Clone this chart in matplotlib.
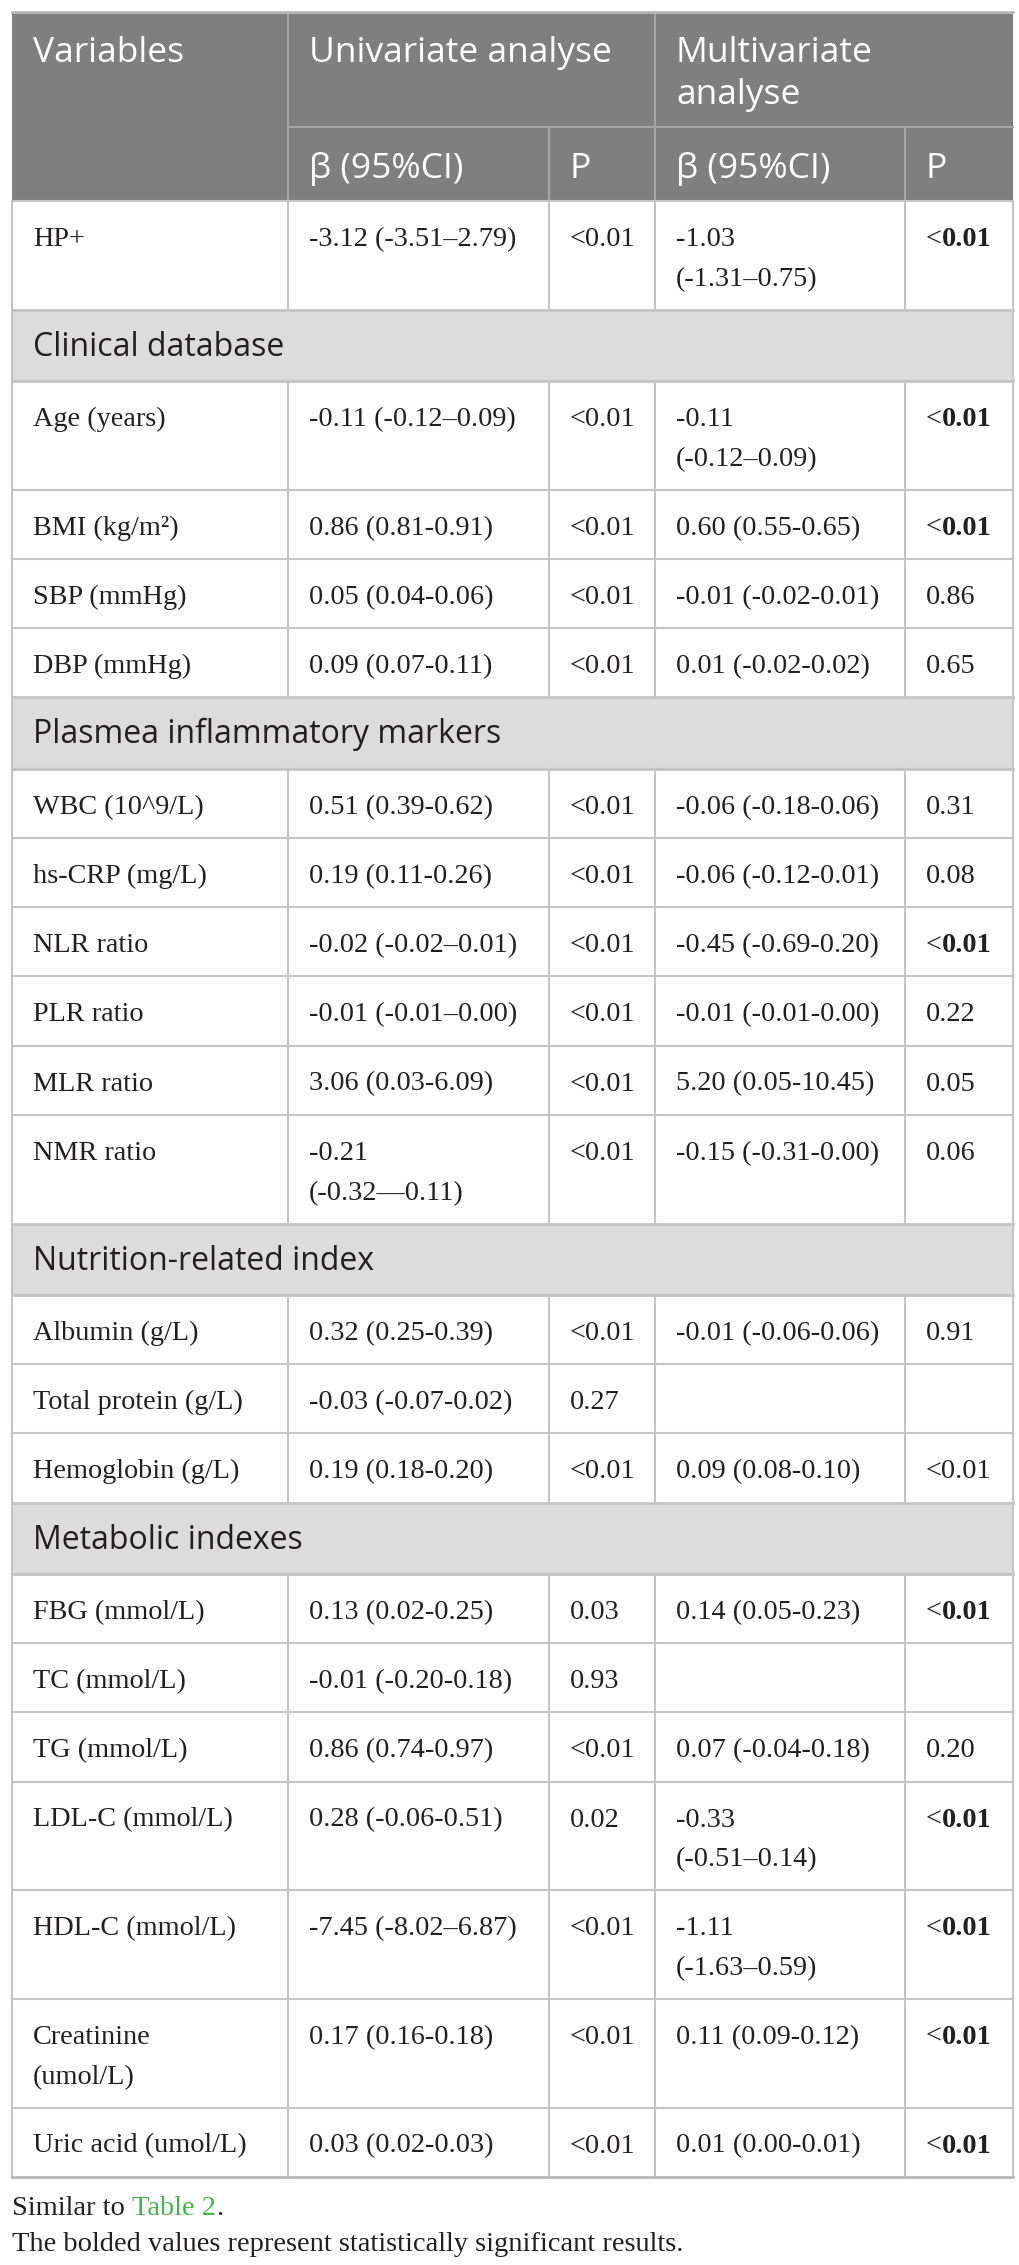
import matplotlib
matplotlib.use("Agg")
import matplotlib.pyplot as plt
from matplotlib.patches import Rectangle

# ---- table content ----
variables = ["HP+", "Age (years)", "BMI (kg/m²)", "SBP (mmHg)", "DBP (mmHg)",
             "WBC (10^9/L)", "hs-CRP (mg/L)", "NLR ratio", "PLR ratio", "MLR ratio",
             "NMR ratio", "Albumin (g/L)", "Total protein (g/L)", "Hemoglobin (g/L)",
             "FBG (mmol/L)", "TC (mmol/L)", "TG (mmol/L)", "LDL-C (mmol/L)",
             "HDL-C (mmol/L)", "Creatinine\n(umol/L)", "Uric acid (umol/L)"]

sections = ["Clinical database", "Plasmea inflammatory markers",
            "Nutrition-related index", "Metabolic indexes"]
section_start = [1, 5, 11, 14]

uni_beta = ["-3.12 (-3.51–2.79)", "-0.11 (-0.12–0.09)", "0.86 (0.81-0.91)",
            "0.05 (0.04-0.06)", "0.09 (0.07-0.11)", "0.51 (0.39-0.62)",
            "0.19 (0.11-0.26)", "-0.02 (-0.02–0.01)", "-0.01 (-0.01–0.00)",
            "3.06 (0.03-6.09)", "-0.21\n(-0.32—0.11)", "0.32 (0.25-0.39)",
            "-0.03 (-0.07-0.02)", "0.19 (0.18-0.20)", "0.13 (0.02-0.25)",
            "-0.01 (-0.20-0.18)", "0.86 (0.74-0.97)", "0.28 (-0.06-0.51)",
            "-7.45 (-8.02–6.87)", "0.17 (0.16-0.18)", "0.03 (0.02-0.03)"]

uni_p = ["<0.01", "<0.01", "<0.01", "<0.01", "<0.01", "<0.01", "<0.01", "<0.01",
         "<0.01", "<0.01", "<0.01", "<0.01", "0.27", "<0.01", "0.03", "0.93",
         "<0.01", "0.02", "<0.01", "<0.01", "<0.01"]

multi_beta = ["-1.03\n(-1.31–0.75)", "-0.11\n(-0.12–0.09)", "0.60 (0.55-0.65)",
              "-0.01 (-0.02-0.01)", "0.01 (-0.02-0.02)", "-0.06 (-0.18-0.06)",
              "-0.06 (-0.12-0.01)", "-0.45 (-0.69-0.20)", "-0.01 (-0.01-0.00)",
              "5.20 (0.05-10.45)", "-0.15 (-0.31-0.00)", "-0.01 (-0.06-0.06)", "",
              "0.09 (0.08-0.10)", "0.14 (0.05-0.23)", "", "0.07 (-0.04-0.18)",
              "-0.33\n(-0.51–0.14)", "-1.11\n(-1.63–0.59)", "0.11 (0.09-0.12)",
              "0.01 (0.00-0.01)"]

multi_p = ["<0.01", "<0.01", "<0.01", "0.86", "0.65", "0.31", "0.08", "<0.01",
           "0.22", "0.05", "0.06", "0.91", "", "<0.01", "<0.01", "", "0.20",
           "<0.01", "<0.01", "<0.01", "<0.01"]

multi_bold = [True, True, True, False, False, False, False, True, False, False,
              False, False, False, False, True, False, False, True, True, True, True]

# ---- layout (pixels) ----
W, H = 1020, 2265
col_x = [12, 288, 549, 655, 905, 1013]
pad = 21
top = 12
hdr1_h, hdr2_h = 115, 74
single_h, double_h, band_h = 69.2, 108.7, 71.4

header_bg = "#7f7f7f"
band_bg = "#dcdcdc"
line_c = "#c4c4c4"
txt_c = "#231f20"
serif = "Liberation Serif"
sans = "Open Sans"
fs_body = 20.3
fs_head = 25.5
fs_band = 23
fs_note = 20.5

fig = plt.figure(figsize=(W / 100, H / 100), dpi=100)
ax = fig.add_axes([0, 0, 1, 1])
ax.set_xlim(0, W)
ax.set_ylim(H, 0)
ax.axis("off")

left, right = col_x[0], col_x[-1]


def cell_text(x, y0, s, bold=False):
    for i, line in enumerate(s.split("\n")):
        yb = y0 + 45 + i * 40
        if bold and line.startswith("<"):
            # "<" stays regular, the number is bold
            t = ax.text(x, yb, "<", fontsize=fs_body, family=serif,
                        color=txt_c, va="baseline")
            ax.annotate(line[1:], xy=(1, 0), xycoords=t, fontsize=fs_body,
                        family=serif, fontweight="bold", color=txt_c,
                        va="bottom", ha="left")
        else:
            ax.text(x, yb, line, fontsize=fs_body, family=serif, color=txt_c,
                    va="baseline", fontweight="bold" if bold else "normal")


# header
y1 = top + hdr1_h
y2 = y1 + hdr2_h
ax.add_patch(Rectangle((left, top), right - left, hdr1_h + hdr2_h,
                       facecolor=header_bg, edgecolor="none"))
ax.text(col_x[0] + pad, top + 50, "Variables", fontsize=fs_head, family=sans,
        color="white", va="baseline")
ax.text(col_x[1] + pad, top + 50, "Univariate analyse", fontsize=fs_head,
        family=sans, color="white", va="baseline")
ax.text(col_x[3] + pad, top + 50, "Multivariate", fontsize=fs_head,
        family=sans, color="white", va="baseline")
ax.text(col_x[3] + pad, top + 92, "analyse", fontsize=fs_head,
        family=sans, color="white", va="baseline")
for ci, lab in zip([1, 2, 3, 4], ["β (95%CI)", "P", "β (95%CI)", "P"]):
    ax.text(col_x[ci] + pad, y1 + 51, lab, fontsize=fs_head, family=sans,
            color="white", va="baseline")
hl = "#a6a6a6"
ax.plot([col_x[1], right], [y1, y1], color=hl, lw=1.5)
for cx in [col_x[1], col_x[3]]:
    ax.plot([cx, cx], [top, y2], color=hl, lw=1.5)
for cx in [col_x[2], col_x[4]]:
    ax.plot([cx, cx], [y1, y2], color=hl, lw=1.5)
ax.plot([left, right], [top, top], color="#b8b8b8", lw=2)

# body
y = y2
for i, var in enumerate(variables):
    if i in section_start:
        name = sections[section_start.index(i)]
        ax.add_patch(Rectangle((left, y), right - left, band_h,
                               facecolor=band_bg, edgecolor="none"))
        ax.text(col_x[0] + pad, y + 46, name, fontsize=fs_band, family=sans,
                color=txt_c, va="baseline")
        ax.plot([left, right], [y, y], color=line_c, lw=2)
        ax.plot([left, right], [y + band_h, y + band_h], color=line_c, lw=2)
        ax.plot([left, left], [y, y + band_h], color=line_c, lw=1.5)
        ax.plot([right, right], [y, y + band_h], color=line_c, lw=1.5)
        y += band_h
    cells = [var, uni_beta[i], uni_p[i], multi_beta[i], multi_p[i]]
    rh = double_h if any("\n" in c for c in cells) else single_h
    for ci, c in enumerate(cells):
        if c:
            cell_text(col_x[ci] + pad, y, c, bold=(ci == 4 and multi_bold[i]))
    for cx in col_x:
        ax.plot([cx, cx], [y, y + rh], color=line_c, lw=1.5)
    ax.plot([left, right], [y, y], color=line_c, lw=1.5)
    y += rh
ax.plot([left, right], [y, y], color="#b8b8b8", lw=2)

# footnotes
t1 = ax.text(left, 2215, "Similar to ", fontsize=fs_note, family=serif,
             color=txt_c, va="baseline")
t2 = ax.annotate("Table 2", xy=(1, 0), xycoords=t1, fontsize=fs_note,
                 family=serif, color="#4caf50", va="bottom", ha="left")
ax.annotate(".", xy=(1, 0), xycoords=t2, fontsize=fs_note, family=serif,
            color=txt_c, va="bottom", ha="left")
ax.text(left, 2251, "The bolded values represent statistically significant results.",
        fontsize=fs_note, family=serif, color=txt_c, va="baseline")

fig.savefig("out.png", dpi=100, facecolor="white")
